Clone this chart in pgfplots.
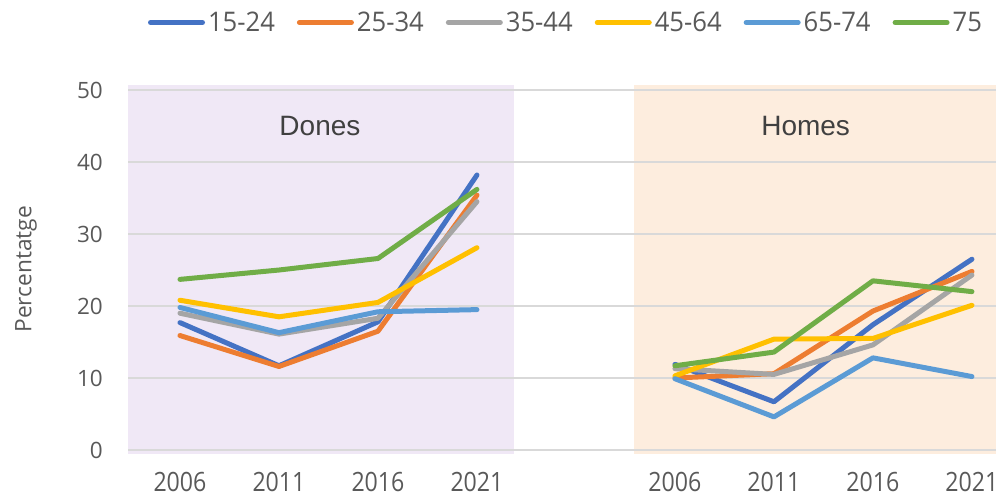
\documentclass[border=0pt]{standalone}
\usepackage{pgfplots}
\pgfplotsset{compat=1.18}
\usepackage{pgfplotstable}
\usepackage{fontspec}
\setmainfont{Open Sans}
\newfontfamily\condfont[FakeStretch=0.87]{Open Sans}
\newfontfamily\legfont[FakeStretch=0.95]{Open Sans}
\newfontfamily\arialfont{Liberation Sans}
\definecolor{cA}{HTML}{4472C4}
\definecolor{cB}{HTML}{ED7D31}
\definecolor{cC}{HTML}{A5A5A5}
\definecolor{cD}{HTML}{FFC000}
\definecolor{cE}{HTML}{5B9BD5}
\definecolor{cF}{HTML}{70AD47}
\definecolor{bgD}{RGB}{240,232,246}
\definecolor{bgH}{RGB}{253,237,222}
\definecolor{gridc}{RGB}{217,217,217}
\definecolor{txt}{HTML}{595959}
\definecolor{ttl}{HTML}{404040}

\pgfplotstableread{
x    a     b     c     d     e     f
0    17.7  15.9  19.0  20.8  19.8  23.7
1    11.7  11.6  16.1  18.5  16.3  25.0
2    17.8  16.5  18.3  20.5  19.2  26.6
3    38.2  35.4  34.5  28.1  19.5  36.2
4    nan   nan   nan   nan   nan   nan
5    11.9  10.0  11.3  10.3  9.9   11.7
6    6.7   10.6  10.5  15.4  4.6   13.6
7    17.4  19.3  14.6  15.5  12.8  23.5
8    26.5  24.8  24.3  20.1  10.2  22.0
}\datatable

\tikzset{serie/.style={line width=5pt, line cap=round, line join=round}}

\begin{document}
\begin{tikzpicture}
\begin{axis}[
  set layers,
  at={(128pt,-453.6pt)}, anchor=south west,
  scale only axis,
  width=867.7pt, height=368.6pt,
  xmin=-0.525, xmax=8.24,
  ymin=-0.5, ymax=50.7,
  axis line style={draw=none},
  major tick length=0pt,
  ymajorgrids,
  grid style={gridc, line width=1.3pt},
  ytick={0,10,20,30,40,50},
  xtick={0,1,2,3,5,6,7,8},
  xticklabels={2006,2011,2016,2021,2006,2011,2016,2021},
  /pgf/number format/assume math mode=true,
  yticklabel style={font=\fontsize{22.5pt}{27pt}\selectfont, text=txt, inner sep=0pt, anchor=east, xshift=-25pt},
  xticklabel style={font=\condfont\fontsize{26.6pt}{32pt}\selectfont, text=txt, inner sep=0pt, anchor=north, yshift=-18pt},
  ylabel={Percentatge},
  ylabel style={at={(axis description cs:-0.1176,0.5)}, anchor=center, font=\fontsize{22.7pt}{27pt}\selectfont, text=txt},
  unbounded coords=jump,
  legend columns=6,
  legend style={draw=none, fill=none, inner sep=0pt, outer sep=0pt,
    at={(axis description cs:0.02305,1.1696)}, anchor=west,
    nodes={inner sep=0pt, text=txt},
    font=\legfont\fontsize{27pt}{32pt}\selectfont,
    /tikz/every odd column/.append style={column sep=3pt},
    /tikz/every even column/.append style={column sep=22pt}},
  legend image code/.code={\draw[#1, line width=5pt, line cap=round] (2.5pt,0pt) -- (54.5pt,0pt);},
]
\begin{pgfonlayer}{axis background}
\fill[bgD] (axis cs:-0.525,-0.5) rectangle (axis cs:3.37,50.7);
\fill[bgH] (axis cs:4.586,-0.5) rectangle (axis cs:8.24,50.7);
\end{pgfonlayer}
\addplot[cA, serie] table[x=x,y=a] {\datatable};
\addlegendentry{15-24}
\addplot[cB, serie] table[x=x,y=b] {\datatable};
\addlegendentry{25-34}
\addplot[cC, serie] table[x=x,y=c] {\datatable};
\addlegendentry{35-44}
\addplot[cD, serie] table[x=x,y=d] {\datatable};
\addlegendentry{45-64}
\addplot[cE, serie] table[x=x,y=e] {\datatable};
\addlegendentry{65-74}
\addplot[cF, serie] table[x=x,y=f] {\datatable};
\addlegendentry{75}
\node[anchor=base, font=\arialfont\fontsize{28pt}{34pt}\selectfont, text=ttl] at (axis cs:1.414,43.75) {Dones};
\node[anchor=base, font=\arialfont\fontsize{28pt}{34pt}\selectfont, text=ttl] at (axis cs:6.32,43.75) {Homes};
\end{axis}
\pgfresetboundingbox
\path[use as bounding box] (0pt,0pt) rectangle (996pt,-495pt);
\end{tikzpicture}
\end{document}
